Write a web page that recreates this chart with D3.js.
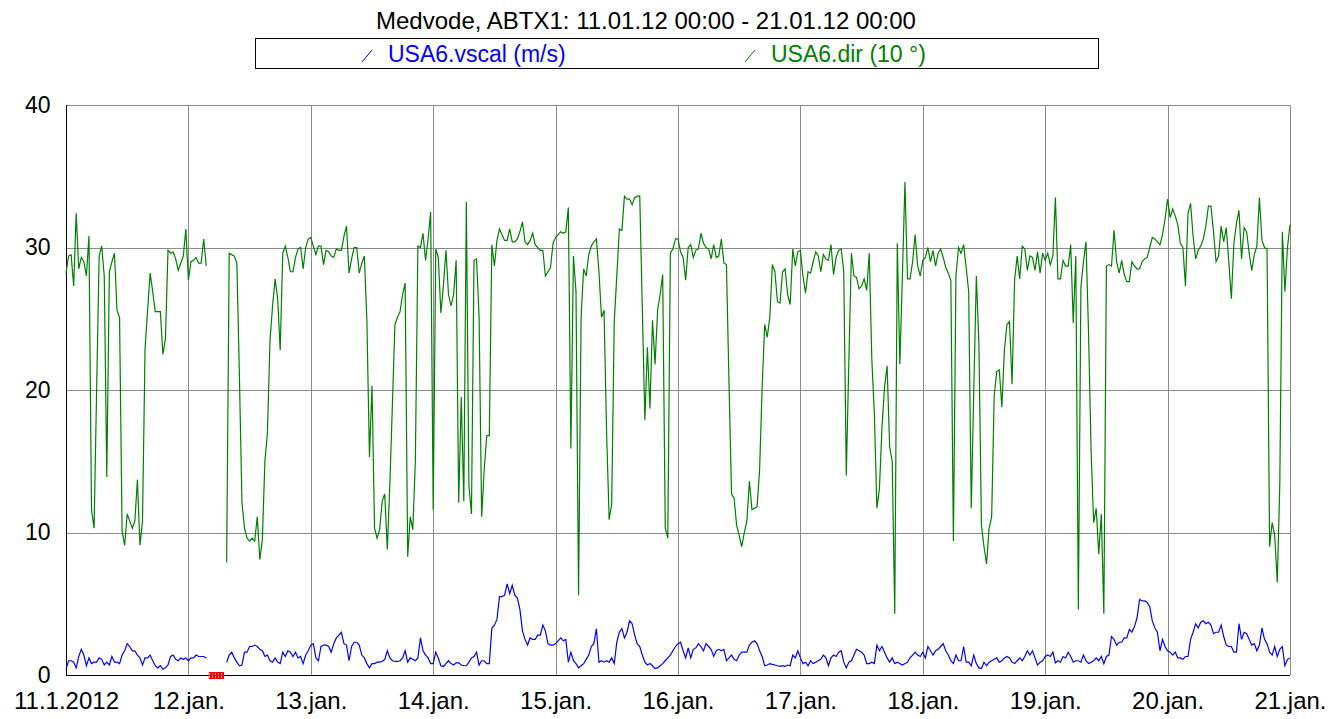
<!DOCTYPE html>
<html>
<head>
<meta charset="utf-8">
<script src="https://cdn.jsdelivr.net/npm/d3@7"></script>
<style>
  body { margin: 0; background: #fff; }
  text { font-family: Arial, "Liberation Sans", sans-serif; }
</style>
</head>
<body>
<div id="graph"></div>
<script>
// half-hour samples, 00:00 .. 23:30 for each day; null = no data
var dir11 = [28.2,29.4,29.5,27.3,32.4,28.5,29.3,29.0,28.0,30.8, 11.6,10.3,19.9,29.4,30.1,28.0,13.9,28.3,29.0,29.6,
  25.6,25.1,10.1,9.1,11.3,10.8,10.3,10.8,13.7,9.1, 10.8,22.9,25.6,28.2,26.9,25.5,25.5,25.5,22.5,23.6,
  29.8,29.6,29.7,29.2,28.4,28.9,29.4,31.3];
var dir12 = [27.7,29.0,29.1,29.3,28.9,28.9,30.6,28.7, null,null,null,null,null,null,null, 7.9,
  29.6,29.5,29.4,28.9,21.0,12.1,10.3,9.6,9.4,9.6, 9.4,11.1,8.1,9.5,15.0,17.0,23.5,25.9,27.8,26.4,
  22.8,29.6,30.1,29.3,28.3,28.3,29.3,29.9,30.0,28.5, 30.0,30.6];
var dir13 = [30.7,30.1,29.5,30.1,30.1,28.8,29.8,29.7,29.4,29.3, 29.9,29.8,29.8,30.8,31.5,28.2,29.2,30.0,30.0,28.2,
  28.9,29.4,24.8,15.3,20.3,10.3,9.6,10.2,12.2,12.7, 8.8,13.4,19.0,24.6,25.1,25.5,26.7,27.5,8.3,11.1,
  10.2,15.0,30.1,30.0,31.0,29.1,30.6,32.5];
var dir14 = [11.6,29.9,29.3,25.4,27.3,29.8,26.7,25.9,26.7,29.1, 12.1,19.5,12.2,33.2,13.3,11.3,29.1,29.2,25.1,11.1,
  14.4,16.8,16.8,30.2,28.7,30.5,31.3,30.9,30.5,30.5, 31.3,30.4,30.4,30.6,31.1,31.8,30.4,30.2,30.5,31.0,
  30.2,30.0,29.8,29.8,28.0,28.3,28.6,30.3];
var dir15 = [30.7,30.9,31.1,31.0,31.1,32.8,15.9,29.4,26.9,5.6, 25.1,28.5,28.0,29.5,30.1,30.4,30.6,28.3,25.1,25.6,
  17.0,10.9,12.0,24.8,28.0,31.3,31.2,33.6,33.4,33.4, 33.0,33.5,33.6,33.6,25.8,17.9,23.0,18.7,24.9,21.8,
  25.6,26.7,28.1,10.3,9.6,29.6,29.9,30.6];
var dir16 = [30.6,29.7,29.3,27.7,30.0,30.2,29.3,29.8,29.9,31.0, 30.3,30.0,29.9,29.2,30.2,29.3,29.4,30.6,28.9,28.8,
  20.5,12.7,12.4,10.5,9.8,9.0,10.0,10.8,13.6,11.6, 11.7,11.8,14.4,20.2,24.6,23.7,25.1,28.8,28.3,26.2,
  26.1,28.3,28.5,26.7,26.0,29.9,28.7,29.7];
var dir17 = [29.8,28.0,26.8,28.3,28.2,29.0,29.7,29.4,28.3,29.5, 29.2,29.1,30.2,28.1,29.3,29.8,29.9,28.3,14.0,22.0,
  29.6,28.0,27.9,27.1,27.3,27.8,27.0,29.6,22.2,18.3, 11.7,13.1,17.4,20.2,21.7,16.0,15.0,4.3,30.3,21.8,
  28.0,34.6,27.8,27.8,29.0,30.9,28.7,28.0];
var dir18 = [29.1,29.3,30.0,29.0,29.8,28.7,29.6,29.9,29.3,28.6, 28.2,27.7,9.4,28.0,30.0,29.6,30.2,28.6,26.9,11.7,
  20.0,28.0,23.3,10.5,9.0,7.8,10.3,11.1,19.6,21.3, 21.4,18.8,22.8,24.6,24.8,20.4,27.7,29.4,27.8,30.1,
  29.9,28.4,29.4,29.3,28.4,29.7,28.2,29.6];
var dir19 = [29.1,29.6,28.8,29.4,33.5,27.8,27.8,29.1,28.7,28.7, 30.2,24.7,29.4,4.6,27.2,29.0,30.4,24.0,15.7,10.7,
  11.7,8.5,11.3,4.3,28.7,28.8,28.7,31.2,29.0,28.2, 29.1,28.1,27.6,27.6,29.0,28.7,28.5,28.5,29.0,29.2,
  29.3,30.0,30.7,30.6,30.4,30.2,30.9,32.0];
var dir20 = [33.4,32.1,32.7,32.2,31.6,30.3,30.0,27.3,32.4,33.1, 30.8,29.2,29.8,30.1,30.6,31.5,32.9,32.9,31.1,29.0,
  29.4,31.5,30.4,31.4,29.0,26.4,30.3,31.7,32.6,29.2, 31.4,31.1,29.6,28.4,29.5,30.1,33.5,30.5,30.0,29.9,
  9.0,10.7,9.8,6.5,13.4,31.1,26.9,30.0];
var dirEnd = 31.6;

var vscal11 = [0.4,1.0,1.0,0.9,0.5,1.3,1.8,1.4,0.65,1.2, 0.8,0.9,0.9,1.2,1.1,0.7,0.9,0.7,1.3,0.9,
  0.9,0.8,1.4,1.7,2.2,2.0,1.7,1.7,1.4,1.2, 0.7,1.2,1.2,1.4,1.0,0.65,0.5,0.65,0.4,0.5,
  0.7,1.3,1.4,1.1,1.0,1.2,1.1,1.2];
var vscal12 = [1.0,1.2,1.2,1.4,1.3,1.3,1.3,1.2, null,null,null,null,null,null,null, 0.9,
  1.4,1.6,1.2,0.9,0.65,0.7,1.6,1.6,2.0,2.0, 2.1,2.0,1.8,1.7,1.3,1.4,1.0,0.9,1.2,0.9,
  0.8,1.6,1.3,1.7,1.6,1.3,1.6,1.2,1.3,0.8, 1.4,1.7];
var vscal13 = [2.1,2.2,1.2,1.0,2.0,2.1,2.1,2.0,1.6,2.2, 2.6,2.8,3.0,2.2,2.1,1.0,2.0,2.3,2.3,2.1,
  1.4,1.2,0.8,0.5,0.8,0.8,0.9,0.9,0.95,1.1, 1.7,1.2,1.0,0.95,0.95,1.0,1.2,1.7,0.9,1.2,
  1.1,1.0,1.2,2.6,1.7,1.4,1.2,0.8];
var vscal14 = [0.8,1.6,1.2,0.65,0.6,0.8,1.0,0.8,0.7,0.85, 0.85,0.7,0.65,0.65,0.9,1.2,1.3,1.6,0.7,1.0,
  1.0,0.8,0.8,3.3,3.5,3.9,5.5,5.5,5.6,6.4, 5.7,6.3,5.6,5.4,4.6,3.1,2.5,2.1,2.6,2.5,
  2.5,2.8,2.8,3.5,3.1,2.2,2.1,2.1];
var vscal15 = [2.2,2.4,2.6,2.4,2.5,0.9,1.6,1.0,0.8,0.5, 0.65,0.8,1.1,1.4,2.0,2.2,3.25,0.9,1.0,0.9,
  1.0,0.9,1.2,0.8,2.3,3.0,3.25,2.6,3.0,3.8, 3.6,2.8,2.2,2.0,1.4,0.9,0.7,0.8,0.65,0.45,
  0.5,0.65,0.8,1.0,1.2,1.4,1.7,2.0];
var vscal16 = [2.2,2.3,1.7,1.2,1.9,1.2,1.8,1.9,2.2,2.0, 1.7,2.2,2.0,1.8,1.3,1.7,1.8,1.7,1.8,1.0,
  1.2,1.4,1.1,1.0,1.4,1.6,1.6,1.6,2.1,2.3, 2.4,2.2,1.7,1.3,0.65,0.7,0.8,0.75,0.7,0.65,
  0.6,0.65,0.6,0.7,0.65,1.4,1.2,1.7];
var vscal17 = [1.2,0.8,0.9,0.65,1.0,0.8,0.9,1.0,1.1,1.4, 1.2,0.65,1.2,1.4,1.3,1.6,1.7,0.9,0.5,0.9,
  1.0,1.4,1.8,1.7,1.6,1.4,0.8,0.8,0.9,0.8, 2.1,1.7,2.0,1.6,1.2,0.9,1.2,0.8,0.9,0.8,
  0.7,0.8,0.9,1.2,1.4,1.6,1.4,1.3];
var vscal18 = [1.6,1.2,2.0,1.7,1.4,1.7,1.8,2.0,2.2,1.7, 1.4,1.0,0.8,1.4,1.0,1.0,2.0,0.9,0.9,0.65,
  1.4,0.8,0.5,0.45,0.9,0.65,0.9,1.0,1.1,1.2, 0.9,1.0,1.2,1.3,1.2,0.9,0.8,1.0,1.2,1.0,
  1.3,1.7,1.4,1.7,1.2,0.7,0.9,1.0];
var vscal19 = [1.3,1.4,1.3,1.6,0.85,1.0,0.9,1.3,1.2,1.6, 1.3,0.9,1.0,1.0,0.9,1.4,1.0,0.8,0.9,1.0,
  1.2,1.0,1.3,0.8,1.3,1.4,2.7,2.5,2.1,2.3, 2.3,2.6,2.6,3.2,3.0,3.4,4.0,5.3,5.2,5.2,
  5.1,4.8,3.8,3.3,3.0,1.7,2.5,2.0];
var vscal20 = [1.7,1.6,1.4,1.6,1.2,1.2,1.1,1.3,1.3,2.5, 3.0,3.6,3.3,3.7,3.8,3.6,3.7,3.5,2.9,3.0,
  3.0,3.5,2.7,2.1,2.0,2.0,1.6,1.6,3.6,2.5, 3.0,2.9,2.5,2.1,2.2,1.7,2.1,3.3,2.5,2.2,
  1.6,1.4,2.0,1.3,1.8,2.0,0.65,1.1];
var vscalEnd = 1.2;

var yTicks = [0, 10, 20, 30, 40];
var missing = [[new Date(2012, 0, 12, 4), new Date(2012, 0, 12, 7)]];

var title = "Medvode, ABTX1: 11.01.12 00:00 - 21.01.12 00:00";
var seriesNames = ["USA6.vscal (m/s)", "USA6.dir (10 °)"];
var seriesColors = ["#0000ff", "#008000"];

var t0 = new Date(2012, 0, 11), t1 = new Date(2012, 0, 21);

function toPoints(days, last) {
  var vals = [].concat.apply([], days).concat([last]);
  return vals.map(function(v, i) {
    return { t: d3.timeMinute.offset(t0, i * 30), v: v };
  });
}

var dirData = toPoints([dir11, dir12, dir13, dir14, dir15, dir16, dir17, dir18, dir19, dir20], dirEnd);
var vscalData = toPoints([vscal11, vscal12, vscal13, vscal14, vscal15, vscal16, vscal17, vscal18, vscal19, vscal20], vscalEnd);

var W = 1341, H = 719;
var plot = { left: 66, right: 1290, top: 105, bottom: 675 };

var svg = d3.select("#graph").append("svg")
    .attr("width", W).attr("height", H);

var x = d3.scaleTime().domain([t0, t1]).range([plot.left, plot.right]);
var y = d3.scaleLinear().domain([0, 40]).range([plot.bottom, plot.top]);

// hatch for the missing-data marker
var pat = svg.append("defs").append("pattern")
  .attr("id", "hatch").attr("patternUnits", "userSpaceOnUse")
  .attr("width", 3).attr("height", 7);
pat.append("rect").attr("width", 3).attr("height", 7).attr("fill", "#ff0000");
pat.append("rect").attr("x", 2).attr("y", 1).attr("width", 1).attr("height", 2).attr("fill", "#ff9a9a");
pat.append("rect").attr("x", 2).attr("y", 4).attr("width", 1).attr("height", 2).attr("fill", "#ff9a9a");

// title
svg.append("text")
  .attr("x", 646).attr("y", 29)
  .attr("text-anchor", "middle")
  .attr("font-size", 24)
  .text(title);

// legend
svg.append("rect")
  .attr("x", 255.5).attr("y", 38.5).attr("width", 843).attr("height", 30)
  .attr("fill", "#fff").attr("stroke", "#000");

var legendX = [362, 745];
seriesNames.forEach(function(name, i) {
  svg.append("line")
    .attr("x1", legendX[i]).attr("y1", 62)
    .attr("x2", legendX[i] + 10).attr("y2", 50)
    .attr("stroke", seriesColors[i]).attr("stroke-width", 1);
  svg.append("text")
    .attr("x", legendX[i] + 26).attr("y", 62)
    .attr("font-size", 23)
    .attr("fill", seriesColors[i])
    .text(name);
});

// grid
var days = d3.timeDay.range(t0, d3.timeDay.offset(t1, 1));
svg.append("g").attr("class", "grid")
  .selectAll("line.v").data(days).enter().append("line")
    .attr("x1", function(d) { return Math.round(x(d)) + 0.5; })
    .attr("x2", function(d) { return Math.round(x(d)) + 0.5; })
    .attr("y1", plot.top).attr("y2", plot.bottom)
    .attr("stroke", "#8c8c8c").attr("stroke-width", 1);
svg.select("g.grid")
  .selectAll("line.h").data(yTicks.slice(1)).enter().append("line")
    .attr("x1", plot.left).attr("x2", plot.right)
    .attr("y1", function(d) { return Math.round(y(d)) + 0.5; })
    .attr("y2", function(d) { return Math.round(y(d)) + 0.5; })
    .attr("stroke", "#8c8c8c").attr("stroke-width", 1);

// axes
var xAxis = d3.axisBottom(x).tickValues(days).tickSize(0).tickPadding(16)
  .tickFormat(function(d, i) {
    return i == 0 ? d3.timeFormat("%-d.%-m.%Y")(d) : d3.timeFormat("%-d")(d) + ".jan.";
  });
var gx = svg.append("g")
  .attr("transform", "translate(0," + (plot.bottom + 0.5) + ")")
  .call(xAxis);
gx.select(".domain").attr("stroke", "#000").attr("d", "M" + plot.left + ",0H" + plot.right);
gx.selectAll("text").attr("font-size", 24).attr("fill", "#000").attr("font-family", null);

var yAxis = d3.axisLeft(y).tickValues(yTicks).tickSize(0).tickPadding(16);
var gy = svg.append("g")
  .attr("transform", "translate(" + (plot.left + 0.5) + ",0)")
  .call(yAxis);
gy.select(".domain").attr("stroke", "#000").attr("d", "M0," + plot.top + "V" + plot.bottom);
gy.selectAll("text").attr("font-size", 23).attr("fill", "#000").attr("font-family", null);

// missing data marker
svg.selectAll("rect.miss").data(missing).enter().append("rect")
  .attr("class", "miss")
  .attr("x", function(d) { return x(d[0]); })
  .attr("width", function(d) { return x(d[1]) - x(d[0]); })
  .attr("y", plot.bottom - 3).attr("height", 7)
  .attr("fill", "url(#hatch)");

// series
var line = d3.line()
  .defined(function(d) { return d.v != null; })
  .x(function(d) { return x(d.t); })
  .y(function(d) { return y(d.v); });

[vscalData, dirData].forEach(function(data, i) {
  svg.append("path")
    .datum(data)
    .attr("fill", "none")
    .attr("stroke", seriesColors[i])
    .attr("stroke-width", 1.2)
    .attr("d", line);
});
</script>
</body>
</html>
